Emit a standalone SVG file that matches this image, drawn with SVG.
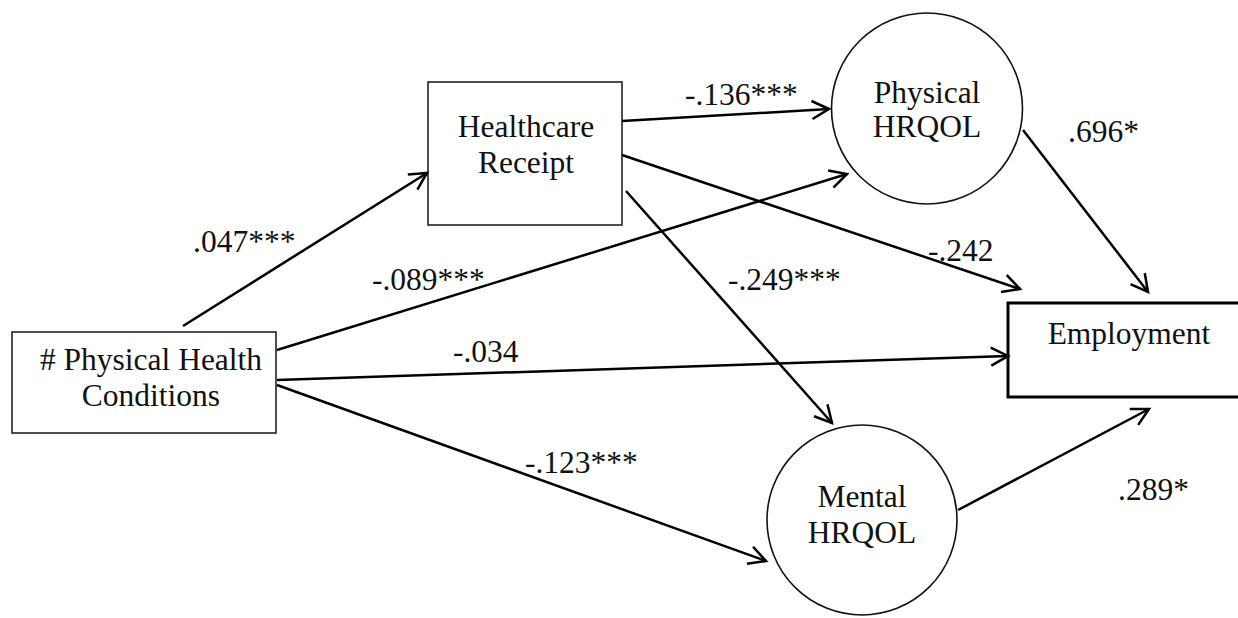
<svg xmlns="http://www.w3.org/2000/svg" width="1238" height="618" viewBox="0 0 1238 618">
<style>
text{font-family:"Liberation Serif","Times New Roman",serif;font-size:31.5px;fill:#111}
.c{text-anchor:middle}
.box{fill:#fff;stroke:#222;stroke-width:1.6}
.emp{fill:#fff;stroke:#000;stroke-width:3}
.circ{fill:#fff;stroke:#111;stroke-width:1.6}
.arr{fill:none;stroke:#000;stroke-width:2.5;marker-end:url(#ah)}
</style>
<defs>
<marker id="ah" markerUnits="userSpaceOnUse" markerWidth="40" markerHeight="40" viewBox="-20 -20 40 40" refX="0" refY="0" orient="auto" overflow="visible">
<path d="M-17,-9 L0,0 L-17,9" fill="none" stroke="#000" stroke-width="2.5" stroke-linejoin="miter"/>
</marker>
</defs>
<rect width="1238" height="618" fill="#fff"/>
<g id="node-conditions">
<rect class="box" x="12" y="332" width="264" height="101"/>
<text class="c" x="151" y="370"># Physical Health</text>
<text class="c" x="151" y="406">Conditions</text>
</g>
<g id="node-healthcare">
<rect class="box" x="428" y="82" width="194" height="143"/>
<text class="c" x="526" y="137">Healthcare</text>
<text class="c" x="526" y="173">Receipt</text>
</g>
<g id="node-physical">
<circle class="circ" cx="927" cy="108.5" r="95.5"/>
<text class="c" x="927" y="103">Physical</text>
<text class="c" x="927" y="137">HRQOL</text>
</g>
<g id="node-mental">
<circle class="circ" cx="862" cy="520" r="95"/>
<text class="c" x="862" y="507">Mental</text>
<text class="c" x="862" y="543">HRQOL</text>
</g>
<g id="node-employment">
<rect class="emp" x="1008" y="303" width="250" height="94"/>
<text class="c" x="1129" y="344">Employment</text>
</g>
<g id="connectors">
<line class="arr" x1="183" y1="326" x2="427" y2="173"/>
<line class="arr" x1="277" y1="350" x2="847" y2="174"/>
<line class="arr" x1="277" y1="380" x2="1008" y2="356"/>
<line class="arr" x1="277" y1="385" x2="766" y2="561"/>
<line class="arr" x1="622" y1="121" x2="829" y2="109"/>
<line class="arr" x1="622" y1="155" x2="1020" y2="289"/>
<line class="arr" x1="626" y1="191" x2="832" y2="423"/>
<line class="arr" x1="1023" y1="130" x2="1148" y2="292"/>
<line class="arr" x1="958" y1="510" x2="1149" y2="409"/>
</g>
<g id="labels">
<text x="193" y="252">.047***</text>
<text x="372" y="290">-.089***</text>
<text x="453" y="362">-.034</text>
<text x="525" y="473">-.123***</text>
<text x="685" y="105">-.136***</text>
<text x="928" y="261">-.242</text>
<text x="728" y="290">-.249***</text>
<text x="1068" y="142">.696*</text>
<text x="1118" y="500">.289*</text>
</g>
</svg>
